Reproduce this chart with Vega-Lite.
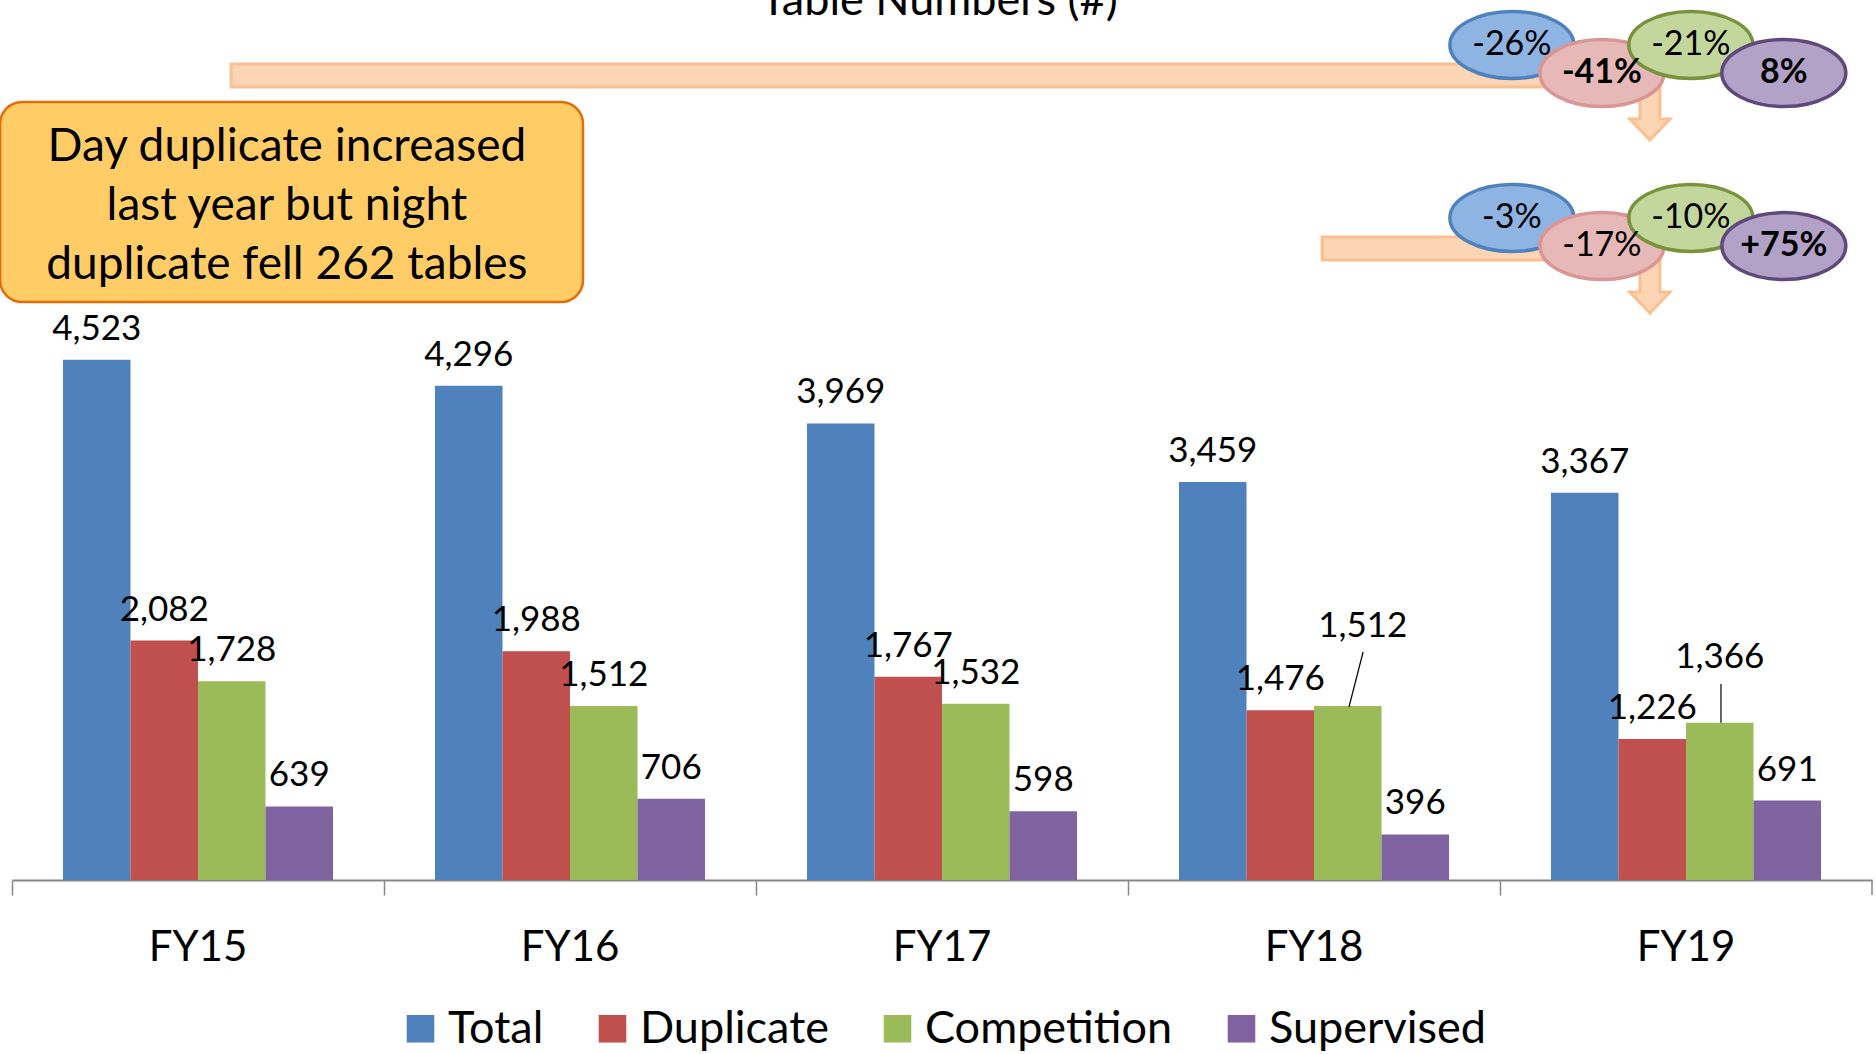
{
  "$schema": "https://vega.github.io/schema/vega-lite/v6.json",
  "width": 1860,
  "height": 880,
  "autosize": {"type": "none"},
  "padding": {"left": 12, "top": 0, "right": 4, "bottom": 174},
  "background": "white",
  "config": {
    "view": {"stroke": null},
    "font": "Lato",
    "legend": {
      "orient": "none",
      "legendX": 386,
      "legendY": 1006,
      "direction": "horizontal",
      "symbolType": "square",
      "symbolSize": 760,
      "symbolStrokeWidth": 0,
      "symbolOpacity": 1,
      "labelFontSize": 45,
      "labelFont": "Lato",
      "labelColor": "#000000",
      "labelLimit": 400,
      "columnPadding": 46,
      "labelOffset": 5
    }
  },
  "datasets": {
    "main": [
      {"FY": "FY15", "series": "Total", "value": 4523},
      {"FY": "FY15", "series": "Duplicate", "value": 2082},
      {"FY": "FY15", "series": "Competition", "value": 1728},
      {"FY": "FY15", "series": "Supervised", "value": 639},
      {"FY": "FY16", "series": "Total", "value": 4296},
      {"FY": "FY16", "series": "Duplicate", "value": 1988},
      {"FY": "FY16", "series": "Competition", "value": 1512},
      {"FY": "FY16", "series": "Supervised", "value": 706},
      {"FY": "FY17", "series": "Total", "value": 3969},
      {"FY": "FY17", "series": "Duplicate", "value": 1767},
      {"FY": "FY17", "series": "Competition", "value": 1532},
      {"FY": "FY17", "series": "Supervised", "value": 598},
      {"FY": "FY18", "series": "Total", "value": 3459},
      {"FY": "FY18", "series": "Duplicate", "value": 1476},
      {"FY": "FY18", "series": "Competition", "value": 1512},
      {"FY": "FY18", "series": "Supervised", "value": 396},
      {"FY": "FY19", "series": "Total", "value": 3367},
      {"FY": "FY19", "series": "Duplicate", "value": 1226},
      {"FY": "FY19", "series": "Competition", "value": 1366},
      {"FY": "FY19", "series": "Supervised", "value": 691}
    ],
    "ellipses": [
      {"series": "Total", "x": 4.032, "y": 7259, "label": "-26%"},
      {"series": "Duplicate", "x": 4.274, "y": 7015, "label": "-41%"},
      {"series": "Competition", "x": 4.513, "y": 7259, "label": "-21%"},
      {"series": "Supervised", "x": 4.763, "y": 7015, "label": "8%"},
      {"series": "Total", "x": 4.032, "y": 5755, "label": "-3%"},
      {"series": "Duplicate", "x": 4.274, "y": 5511, "label": "-17%"},
      {"series": "Competition", "x": 4.513, "y": 5755, "label": "-10%"},
      {"series": "Supervised", "x": 4.763, "y": 5511, "label": "+75%"}
    ],
    "arrowBars": [
      {"x": 0.589, "x2": 4.43, "y": 7093, "y2": 6894},
      {"x": 3.522, "x2": 4.43, "y": 5590, "y2": 5390}
    ],
    "arrowHeads": [
      {"x": 4.403, "y": 6694},
      {"x": 4.403, "y": 5190}
    ],
    "box": [
      {"x": -0.032, "x2": 1.535, "y": 6763, "y2": 5025, "cx": 0.739, "cy": 6372, "text": "Day duplicate increased\nlast year but night\nduplicate fell 262 tables"}
    ],
    "title": [
      {"x": 2.492, "y": 7519, "text": "Table Numbers (#)"}
    ],
    "leaders": [
      {"x": 3.594, "x2": 3.632, "y": 1504, "y2": 1982},
      {"x": 4.594, "x2": 4.594, "y": 1366, "y2": 1704}
    ],
    "endTick": [
      {"x": 5, "y": 0, "y2": -130}
    ]
  },
  "resolve": {"scale": {"x": "independent"}},
  "layer": [
    {
      "data": {"name": "main"},
      "encoding": {
        "x": {
          "field": "FY",
          "type": "nominal",
          "sort": ["FY15", "FY16", "FY17", "FY18", "FY19"],
          "scale": {"paddingInner": 0, "paddingOuter": 0},
          "axis": {
            "title": null,
            "bandPosition": 0,
            "labelOffset": 0,
            "tickSize": 15,
            "tickColor": "#868686",
            "tickWidth": 1.5,
            "domainColor": "#868686",
            "domainWidth": 2,
            "labelFontSize": 42,
            "labelFont": "Lato",
            "labelColor": "#000000",
            "labelPadding": 32,
            "labelAngle": 0,
            "grid": false
          }
        },
        "xOffset": {
          "field": "series",
          "type": "nominal",
          "sort": ["Total", "Duplicate", "Competition", "Supervised"],
          "scale": {"paddingInner": 0, "paddingOuter": 0.755}
        },
        "y": {
          "field": "value",
          "type": "quantitative",
          "scale": {"domain": [0, 7650], "nice": false},
          "axis": null
        }
      },
      "layer": [
        {
          "mark": {"type": "bar"},
          "encoding": {
            "color": {
              "field": "series",
              "type": "nominal",
              "scale": {
                "domain": ["Total", "Duplicate", "Competition", "Supervised"],
                "range": ["#4F81BD", "#C0504D", "#9BBB59", "#8064A2"]
              },
              "legend": {"title": null}
            }
          }
        },
        {
          "transform": [{"filter": "!((datum.FY == 'FY18' || datum.FY == 'FY19') && datum.series == 'Competition')"}],
          "mark": {"type": "text", "baseline": "alphabetic", "dy": -20, "fontSize": 35, "font": "Lato", "color": "#000000"},
          "encoding": {"text": {"field": "value", "type": "quantitative", "format": ","}}
        },
        {
          "transform": [{"filter": "datum.FY == 'FY18' && datum.series == 'Competition'"}],
          "mark": {"type": "text", "baseline": "alphabetic", "dy": -69, "dx": 15, "fontSize": 35, "font": "Lato", "color": "#000000"},
          "encoding": {"text": {"field": "value", "type": "quantitative", "format": ","}}
        },
        {
          "transform": [{"filter": "datum.FY == 'FY19' && datum.series == 'Competition'"}],
          "mark": {"type": "text", "baseline": "alphabetic", "dy": -55, "dx": 0, "fontSize": 35, "font": "Lato", "color": "#000000"},
          "encoding": {"text": {"field": "value", "type": "quantitative", "format": ","}}
        }
      ]
    },
    {
      "encoding": {
        "x": {"field": "x", "type": "quantitative", "scale": {"domain": [0, 5], "nice": false, "zero": false}, "axis": null},
        "y": {"field": "y", "type": "quantitative", "scale": {"domain": [0, 7650], "nice": false}, "axis": null}
      },
      "layer": [
        {
          "data": {"name": "box"},
          "mark": {"type": "rect", "cornerRadius": 22, "fill": "#FFCC66", "stroke": "#E46C0A", "strokeWidth": 2.5},
          "encoding": {"x2": {"field": "x2"}, "y2": {"field": "y2"}}
        },
        {
          "data": {"name": "box"},
          "mark": {"type": "text", "align": "center", "baseline": "middle", "lineBreak": "\n", "lineHeight": 59, "fontSize": 46, "font": "Lato", "color": "#000000"},
          "encoding": {
            "x": {"field": "cx", "type": "quantitative", "scale": {"domain": [0, 5], "nice": false, "zero": false}, "axis": null},
            "y": {"field": "cy", "type": "quantitative", "scale": {"domain": [0, 7650], "nice": false}, "axis": null},
            "text": {"field": "text"}
          }
        },
        {
          "data": {"name": "arrowBars"},
          "mark": {"type": "rect", "fill": "#FCD5B5", "stroke": "#FAC090", "strokeWidth": 3},
          "encoding": {"x2": {"field": "x2"}, "y2": {"field": "y2"}}
        },
        {
          "data": {"name": "arrowHeads"},
          "mark": {
            "type": "point",
            "filled": true,
            "opacity": 1,
            "shape": "M-0.333,-1L0.333,-1L0.333,0.3L0.667,0.3L0,1L-0.667,0.3L-0.333,0.3Z",
            "size": 3600,
            "fill": "#FCD5B5",
            "stroke": "#FAC090",
            "strokeWidth": 3
          }
        },
        {
          "data": {"name": "ellipses"},
          "mark": {
            "type": "point",
            "filled": true,
            "opacity": 1,
            "shape": "M-1,0A1,0.54,0,1,1,1,0A1,0.54,0,1,1,-1,0Z",
            "size": 15376,
            "strokeWidth": 3.5
          },
          "encoding": {
            "fill": {
              "field": "series",
              "type": "nominal",
              "scale": {
                "domain": ["Total", "Duplicate", "Competition", "Supervised"],
                "range": ["#8EB4E3", "#E6B9B8", "#C3D69B", "#B3A2C7"]
              },
              "legend": null
            },
            "stroke": {
              "field": "series",
              "type": "nominal",
              "scale": {
                "domain": ["Total", "Duplicate", "Competition", "Supervised"],
                "range": ["#4F81BD", "#D99694", "#77933C", "#5F497A"]
              },
              "legend": null
            }
          }
        },
        {
          "data": {"name": "ellipses"},
          "transform": [{"filter": {"not": {"field": "label", "oneOf": ["-41%", "8%", "+75%"]}}}],
          "mark": {"type": "text", "align": "center", "baseline": "middle", "fontSize": 34, "font": "Lato", "color": "#000000"},
          "encoding": {"text": {"field": "label"}}
        },
        {
          "data": {"name": "ellipses"},
          "transform": [{"filter": {"field": "label", "oneOf": ["-41%", "8%", "+75%"]}}],
          "mark": {"type": "text", "align": "center", "baseline": "middle", "fontSize": 34, "fontWeight": "bold", "font": "Lato", "color": "#000000"},
          "encoding": {"text": {"field": "label"}}
        },
        {
          "data": {"name": "title"},
          "mark": {"type": "text", "align": "center", "baseline": "alphabetic", "fontSize": 45, "font": "Lato", "color": "#000000"},
          "encoding": {"text": {"field": "text"}}
        },
        {
          "data": {"name": "leaders"},
          "mark": {"type": "rule", "color": "#000000", "strokeWidth": 1.2},
          "encoding": {"x2": {"field": "x2"}, "y2": {"field": "y2"}}
        },
        {
          "data": {"name": "endTick"},
          "mark": {"type": "rule", "color": "#868686", "strokeWidth": 1.5},
          "encoding": {"y2": {"field": "y2"}}
        }
      ]
    }
  ]
}
